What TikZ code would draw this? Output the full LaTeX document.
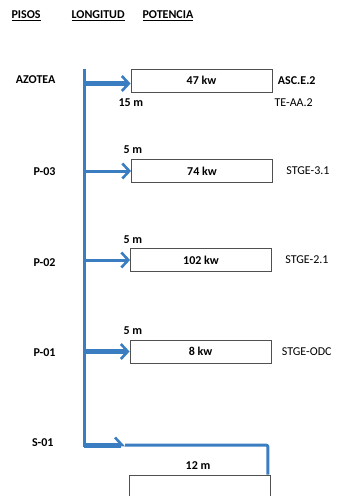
\documentclass[tikz,border=0pt]{standalone}
\usepackage{fontspec}
\setmainfont{Carlito}
\usetikzlibrary{arrows.meta, positioning}
\definecolor{feederblue}{HTML}{3A7DC1}
\definecolor{loadborder}{HTML}{505050}

\begin{document}
\begin{tikzpicture}[x=1pt, y=-1pt,
      every node/.style={font=\fontsize{12}{14}\selectfont},
      load/.style={draw=loadborder, line width=0.8pt, minimum width=141pt,
        minimum height=23pt, inner sep=0pt,
        font=\fontsize{12}{14}\selectfont\bfseries},
      floor/.style={anchor=east, font=\fontsize{12}{14}\selectfont\bfseries},
      head/.style={anchor=west, font=\fontsize{12}{14}\selectfont\bfseries},
      len/.style={anchor=west, font=\fontsize{12}{14}\selectfont\bfseries},
      board/.style={anchor=west},
      feeder/.style={draw=feederblue, line width=3pt},
      >={Straight Barb[length=7pt, width=15pt, line width=2.6pt]}
    ]
      \useasboundingbox (0,0) rectangle (340,496);
      \clip (0,0) rectangle (340,496);

      % header
      \node[head] (pisos) at (8,16) {\underline{PISOS}};
      \node[head] (longitud) at (68,16) {\underline{LONGITUD}};
      \node[head] (potencia) at (139,16) {\underline{POTENCIA}};

      % loads
      \node[load] (az) at (201.5,80.5) {47 kw};
      \node[load] (p3) at (202,171) {74 kw};
      \node[load] (p2) at (201,260) {102 kw};
      \node[load] (p1) at (200.5,351.5) {8 kw};
      \node[load, minimum height=40pt] (s1) at (200,495) {};

      % boards
      \node[board, right=2pt of az, font=\fontsize{12}{14}\selectfont\bfseries]
        (azb) {ASC.E.2};
      \node[board] (azb2) at (271,103) {TE-AA.2};
      \node[board, right=10pt of p3] (p3b) {STGE-3.1};
      \node[board, right=10pt of p2] (p2b) {STGE-2.1};
      \node[board, right=7pt of p1] (p1b) {STGE-ODC};

      % floors
      \node[floor] (fAz) at (59,80) {AZOTEA};
      \node[floor] (f3) at (59,172) {P-03};
      \node[floor] (f2) at (59,263) {P-02};
      \node[floor] (f1) at (59,353) {P-01};
      \node[floor] (fs) at (57,443) {S-01};

      % lengths
      \node[len] (l1) at (115,103) {15 m};
      \node[len] (l2) at (120,150) {5 m};
      \node[len] (l3) at (120,240) {5 m};
      \node[len] (l4) at (120,331) {5 m};
      \node[len, anchor=center] (l5) at (198,466) {12 m};

      % trunk
      \coordinate (top) at (84,70);
      \coordinate (bot) at (84,445);
      \coordinate (tap) at (125,445);
      \coordinate (bend) at (s1.north east |- bot);
      \draw[feeder, line cap=rect] (top) -- (bot);

      % feeders
      \draw[feeder, line width=5pt, ->] ([yshift=-3pt]top |- az.west)
        -- ([yshift=-3pt]az.west);
      \draw[feeder, ->] (top |- p3.west) -- (p3.west);
      \draw[feeder, ->] (top |- p2.west) -- (p2.west);
      \draw[feeder, line width=5pt, ->] (top |- p1.west) -- (p1.west);
      \draw[feeder, line width=5pt,
        -{Straight Barb[left, length=7pt, width=15pt, line width=2.6pt]}]
        (bot) -- (tap);
      \draw[feeder, rounded corners=2pt] (tap) -- ([xshift=-3pt]bend)
        -- ([xshift=-3pt]s1.north east);
    \end{tikzpicture}
\end{document}
